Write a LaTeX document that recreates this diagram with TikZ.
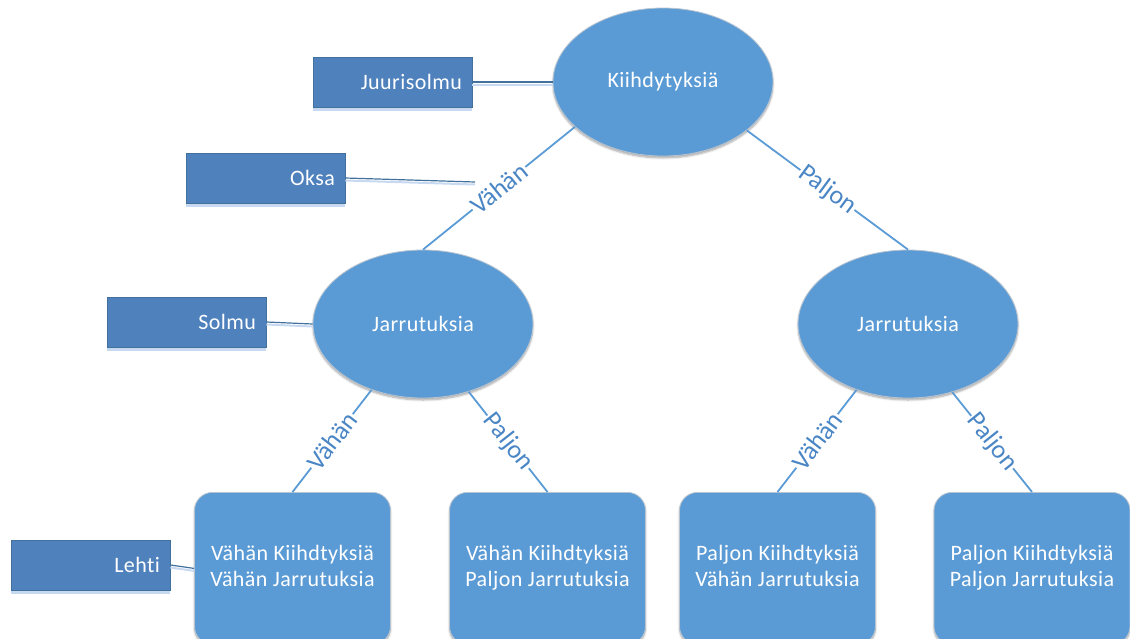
\documentclass[tikz,border=0pt]{standalone}
\usepackage{fontspec}
\setmainfont{Carlito}
\newfontfamily\spaced[LetterSpace=2,Ligatures={NoCommon}]{Carlito}
\usetikzlibrary{shapes.geometric,shadows,shadows.blur}
\definecolor{nodeblue}{HTML}{5B9BD5}
\definecolor{nodeedge}{HTML}{B8C4D0}
\definecolor{tagblue}{HTML}{4F81BD}
\definecolor{tagedge}{HTML}{41719C}
\definecolor{shadowblue}{HTML}{C6D9F1}
\definecolor{labelblue}{HTML}{4A86C5}
\tikzset{
  treenode/.style={ellipse, fill=nodeblue, draw=nodeedge, line width=0.8pt,
    minimum width=220pt, minimum height=148pt, inner sep=0pt,
    text=white, font=\spaced\fontsize{22}{26}\selectfont,
    blur shadow={shadow blur steps=6, shadow xshift=0pt, shadow yshift=-2pt, shadow opacity=35, shadow scale=1.0}},
  leafnode/.style={rectangle, rounded corners=18pt, fill=nodeblue, draw=nodeedge, line width=0.8pt,
    minimum width=196pt, minimum height=152pt, inner sep=0pt, align=center,
    text=white, font=\spaced\fontsize{22}{26}\selectfont,
    blur shadow={shadow blur steps=6, shadow xshift=0pt, shadow yshift=-2pt, shadow opacity=35}},
  tagbox/.style={rectangle, fill=tagblue, draw=tagedge, line width=0.8pt,
    minimum width=159pt, minimum height=50pt, text width=139pt, inner sep=0pt, align=right,
    text=white, font=\spaced\fontsize{22}{26}\selectfont,
    drop shadow={shadow xshift=0pt, shadow yshift=-4pt, fill=shadowblue, opacity=1}},
  branch/.style={draw=nodeblue, line width=1.8pt},
  blabel/.style={sloped, fill=white, inner sep=1pt, text=labelblue, font=\fontsize{26}{30}\selectfont},
  tagline/.style={draw=tagedge, line width=1.2pt},
  tagshadow/.style={draw=shadowblue, line width=2pt},
}
\begin{document}
\begin{tikzpicture}[x=1pt,y=-1pt]
\useasboundingbox (0,0) rectangle (1130,638);
\clip (0,0) rectangle (1130,638);
% tree nodes
\node[treenode] (root) at (663,82) {Kiihdytyksiä};
\node[treenode] (l1) at (423,324) {Jarrutuksia};
\node[treenode] (r1) at (908,324) {Jarrutuksia};
\node[leafnode, anchor=north] (a) at (292.5,492) {Vähän Kiihdtyksiä\strut\\Vähän Jarrutuksia\strut};
\node[leafnode, anchor=north] (b) at (547.5,492) {Vähän Kiihdtyksiä\strut\\Paljon Jarrutuksia\strut};
\node[leafnode, anchor=north] (c) at (777.5,492) {Paljon Kiihdtyksiä\strut\\Vähän Jarrutuksia\strut};
\node[leafnode, anchor=north] (d) at (1032,492) {Paljon Kiihdtyksiä\strut\\Paljon Jarrutuksia\strut};
% branches
\draw[branch] (root.207) -- node[blabel] {Vähän} (l1.north);
\draw[branch] (root.330) -- node[blabel] {Paljon} (r1.north);
\draw[branch] (l1.232) -- node[blabel] {Vähän} (a.north);
\draw[branch] (l1.304) -- node[blabel] {Paljon} (b.north);
\draw[branch] (r1.232) -- node[blabel] {Vähän} (c.north);
\draw[branch] (r1.303) -- node[blabel] {Paljon} (d.north);
% tag boxes
\node[tagbox] (t1) at (392.5,82) {Juurisolmu};
\node[tagbox] (t2) at (265.5,178) {Oksa};
\node[tagbox] (t3) at (186.5,322) {Solmu};
\node[tagbox] (t4) at (90.5,565) {Lehti};
\coordinate (oksaend) at (475,182);
% tag connectors
\draw[tagshadow] ([yshift=-2.5pt]t1.east) -- ([yshift=-2.5pt]root.west);
\draw[tagline] (t1.east) -- (root.west);
\draw[tagshadow] ([yshift=-2.5pt]t2.east) -- ([yshift=-2.5pt]oksaend);
\draw[tagline] (t2.east) -- (oksaend);
\draw[tagshadow] ([yshift=-2.5pt]t3.east) -- ([yshift=-2.5pt]l1.west);
\draw[tagline] (t3.east) -- (l1.west);
\draw[tagshadow] ([yshift=-2.5pt]t4.east) -- ([yshift=-2.5pt]a.west);
\draw[tagline] (t4.east) -- (a.west);
\end{tikzpicture}
\end{document}
